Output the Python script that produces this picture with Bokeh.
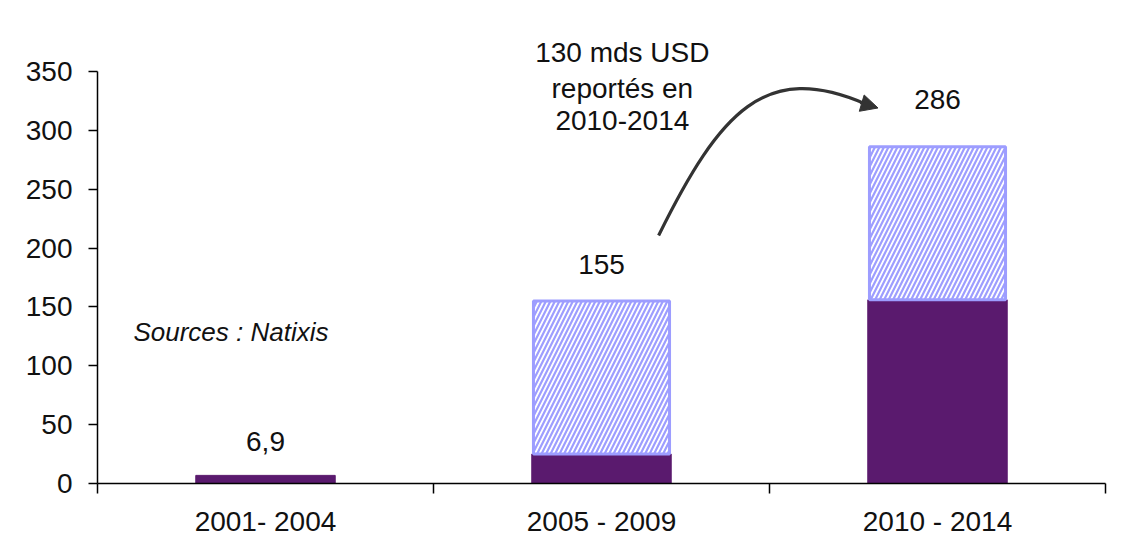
from bokeh.plotting import figure
from bokeh.models import (ColumnDataSource, Range1d, FixedTicker, Arrow, NormalHead)
from bokeh.embed import file_html
from bokeh.resources import INLINE
from bokeh.core.properties import value

# ---- data ----
categories = ["2001- 2004", "2005 - 2009", "2010 - 2014"]
realised = [6.9, 25, 156]          # solid purple part
reported = [0, 130, 130]           # hatched part (reported to 2010-2014)
totals = [6.9, 155, 286]
value_labels = ["6,9", "155", "286"]
y_ticks = [0, 50, 100, 150, 200, 250, 300, 350]
annotation_lines = ["130 mds USD", "reportés en", "2010-2014"]
source_note = "Sources : Natixis"

FONT = "Liberation Sans"
PURPLE = "#5A1A6E"
HATCH = "#9D9DFF"

xs = list(range(len(categories)))

p = figure(width=1118, height=539, output_backend="svg", toolbar_location=None,
           x_range=Range1d(-0.5, 2.5), y_range=Range1d(0, 410.3),
           min_border_left=97, min_border_right=13, min_border_top=0,
           min_border_bottom=56)
p.outline_line_color = None
p.xgrid.visible = False
p.ygrid.visible = False
p.background_fill_color = "white"
p.border_fill_color = "white"

# solid bars
p.vbar(x=xs, top=realised, bottom=0, width=0.415, fill_color=PURPLE,
       line_color=PURPLE, line_width=1)

# hatched bars
hx = [x for x, r in zip(xs, reported) if r > 0]
hb = [b for b, r in zip(realised, reported) if r > 0]
ht = [b + r for b, r in zip(realised, reported) if r > 0]
p.vbar(x=hx, bottom=hb, top=ht, width=0.405, fill_color="white",
       line_color=HATCH, line_width=3, hatch_pattern="/", hatch_color=HATCH,
       hatch_scale=9, hatch_weight=2.2)

# value labels
label_offsets = [-34, -37, -47]
src = ColumnDataSource(dict(x=xs, y=totals, t=value_labels, off=label_offsets))
p.text(x="x", y="y", text="t", y_offset="off", source=src, text_align="center",
       text_baseline="middle", text_font=value(FONT), text_font_size="28px",
       text_color="#111111")

# annotation text
p.text(x=[1.062] * 3, y=[366.0, 335.5, 308.5], text=annotation_lines,
       text_align="center", text_baseline="middle", text_font=value(FONT),
       text_font_size="28px", text_color="#111111")

# source note
p.text(x=[-0.393], y=[128.5], text=[source_note], text_align="left",
       text_baseline="middle", text_font=value(FONT), text_font_style="italic",
       text_font_size="26px", text_color="#111111")

# curved arrow
p.bezier(x0=[1.170], y0=[210.7], x1=[1.785], y1=[322.5],
         cx0=[1.354], cy0=[316.9], cx1=[1.488], cy1=[359.0],
         line_color="#333333", line_width=3.2)
p.add_layout(Arrow(x_start=1.770, y_start=323.5, x_end=1.823, y_end=319.0,
                   line_color="#333333", line_width=3,
                   end=NormalHead(size=17, fill_color="#333333",
                                  line_color="#333333")))

# y axis
yax = p.yaxis[0]
yax.ticker = FixedTicker(ticks=y_ticks)
yax.bounds = (0, 350)
yax.axis_line_color = "black"
yax.axis_line_width = 1.5
yax.major_tick_out = 9
yax.major_tick_in = 0
yax.minor_tick_out = 0
yax.minor_tick_in = 0
yax.major_tick_line_width = 1.5
yax.major_label_standoff = 16
yax.major_label_text_font = FONT
yax.major_label_text_font_size = "28px"
yax.major_label_text_color = "#111111"

# x axis
xax = p.xaxis[0]
xax.ticker = FixedTicker(ticks=xs, minor_ticks=[-0.5, 0.5, 1.5, 2.5])
xax.major_label_overrides = {i: c for i, c in zip(xs, categories)}
xax.axis_line_color = "black"
xax.axis_line_width = 1.5
xax.major_tick_out = 0
xax.major_tick_in = 0
xax.minor_tick_out = 10
xax.minor_tick_in = 0
xax.minor_tick_line_color = "black"
xax.minor_tick_line_width = 1.5
xax.major_label_standoff = 12
xax.major_label_text_font = FONT
xax.major_label_text_font_size = "28px"
xax.major_label_text_color = "#111111"

open("out.html", "w").write(file_html(p, INLINE))
